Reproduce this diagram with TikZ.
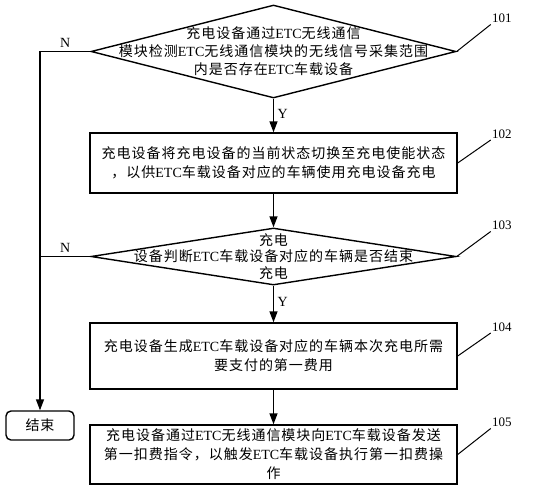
\documentclass[tikz,border=0pt]{standalone}
\usepackage{fontspec}
\usepackage{tikz}
\setmainfont{Liberation Serif}
\newfontfamily\cjk[LetterSpace=7]{Noto Sans CJK SC}
\usetikzlibrary{shapes.geometric,arrows.meta}
\newcommand{\etc}{{\rmfamily ETC}}

\tikzset{
  decision/.style={diamond, draw, line width=1.4pt, minimum width=365pt, inner sep=0pt},
  process/.style={rectangle, draw, line width=1.4pt, minimum width=367pt, align=center,
    font=\cjk\fontsize{14}{19}\selectfont},
  inside/.style={align=center, font=\cjk\fontsize{14}{18}\selectfont},
  terminal/.style={rectangle, rounded corners=5pt, draw, line width=1.4pt,
    minimum width=68pt, minimum height=29pt, font=\cjk\fontsize{14}{16}\selectfont},
  flow/.style={line width=1.4pt, -{Triangle[length=11pt,width=8pt]}},
  leader/.style={line width=1pt},
  stepno/.style={font=\fontsize{13}{15}\selectfont, inner sep=1pt, anchor=south west},
  yn/.style={font=\fontsize{14}{16}\selectfont}
}

\begin{document}
\begin{tikzpicture}[x=1pt, y=-1pt]
        \useasboundingbox (0,0) rectangle (534,493);
        % steps
        \node[decision, minimum height=93pt] (d1) at (273.5,51.5) {};
        \node[inside] (d1text) at (d1) {充电设备通过\etc 无线通信\\模块检测\etc 无线通信模块的无线信号采集范围\\内是否存在\etc 车载设备};
        \node[process, minimum height=60pt] (b2) at (273.5,163)
          {充电设备将充电设备的当前状态切换至充电使能状态\\，以供\etc 车载设备对应的车辆使用充电设备充电};
        \node[decision, minimum height=57pt] (d2) at (273.5,256.5) {};
        \node[inside, font=\cjk\fontsize{14}{16.5}\selectfont] (d2text) at (d2)
          {充电\\设备判断\etc 车载设备对应的车辆是否结束\\充电};
        \node[process, minimum height=66pt] (b4) at (273.5,356)
          {充电设备生成\etc 车载设备对应的车辆本次充电所需\\要支付的第一费用};
        \node[process, minimum height=59pt] (b5) at (273.5,454.5)
          {充电设备通过\etc 无线通信模块向\etc 车载设备发送\\第一扣费指令，以触发\etc 车载设备执行第一扣费操\\作};
        \node[terminal] (endnode) at (40,425.5) {结束};

        % connectors
        \draw[flow] (d1) -- node[yn, right, pos=0.45] (y1) {Y} (b2);
        \draw[flow] (b2) -- (d2);
        \draw[flow] (d2) -- node[yn, right, pos=0.45] (y2) {Y} (b4);
        \draw[flow] (b4) -- (b5);
        \draw[flow] (d1.west) -- node[yn, above] (n1) {N} (d1.west -| endnode) -- (endnode);
        \draw[line width=1.4pt] (d2.west) -- node[yn, above] (n2) {N} (d2.west -| endnode);

        % step numbers
        \draw[leader] (d1.east) -- ++(34,-27) node[stepno] (s101) {101};
        \draw[leader] (b2.east) -- ++(33,-23) node[stepno] (s102) {102};
        \draw[leader] (d2.east) -- ++(34,-25) node[stepno] (s103) {103};
        \draw[leader] (b4.east) -- ++(33,-23) node[stepno] (s104) {104};
        \draw[leader] (b5.east) -- ++(33,-26) node[stepno] (s105) {105};
      \end{tikzpicture}
\end{document}
